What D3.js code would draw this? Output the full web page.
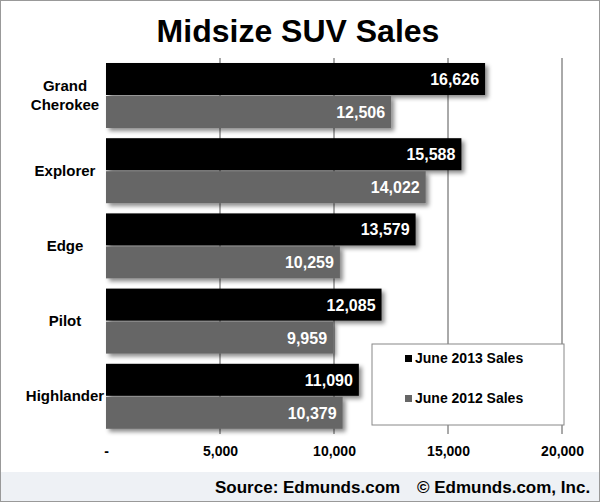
<!DOCTYPE html>
<html><head><meta charset="utf-8">
<script src="https://cdn.jsdelivr.net/npm/d3@7"></script>
<style>body{margin:0;background:#fff;font-family:"Liberation Sans",Arial,sans-serif}</style>
</head><body><svg width="600" height="502"></svg>
<script>
var models = ["Grand|Cherokee", "Explorer", "Edge", "Pilot", "Highlander"];
var sales2013 = [16626, 15588, 13579, 12085, 11090];
var sales2012 = [12506, 14022, 10259, 9959, 10379];
var ticks = [0, 5000, 10000, 15000, 20000];

var svg = d3.select("svg");
var defs = svg.append("defs");
var f = defs.append("filter").attr("id", "sh").attr("x", "-10%").attr("y", "-20%").attr("width", "130%").attr("height", "160%");
f.append("feDropShadow").attr("dx", 3).attr("dy", 3).attr("stdDeviation", 2).attr("flood-color", "#000").attr("flood-opacity", 0.45);

svg.append("rect").attr("x", 0.5).attr("y", 0.5).attr("width", 599).attr("height", 501).attr("fill", "#fff").attr("stroke", "#999");
svg.append("rect").attr("x", 1).attr("y", 472).attr("width", 598).attr("height", 29).attr("fill", "#eef1f5");

svg.append("text").attr("x", 298).attr("y", 42).attr("text-anchor", "middle")
    .style("font-size", "32px").style("font-weight", "bold").text("Midsize SUV Sales");

var x = d3.scaleLinear().domain([0, 20000]).range([106, 562]);
var y = d3.scaleBand().domain(models).range([58, 434]);

svg.selectAll(".grid").data(ticks.slice(1)).enter().append("line")
    .attr("x1", d => x(d)).attr("x2", d => x(d)).attr("y1", 58).attr("y2", 434)
    .attr("stroke", "#555").attr("stroke-width", 1);

var xAxis = d3.axisBottom(x).tickValues(ticks).tickSize(0)
    .tickFormat(d => d === 0 ? "-" : d3.format(",")(d));
var ax = svg.append("g").attr("transform", "translate(0,434)").call(xAxis);
ax.select(".domain").remove();
ax.selectAll("text").attr("dy", 0).attr("y", 22).style("font-size", "14px").style("font-weight", "bold")
    .style("font-family", "Liberation Sans, Arial").attr("fill", "#000");

var bh = 32;
function bars(vals, off, color) {
    var g = svg.append("g");
    g.selectAll("rect").data(vals).enter().append("rect")
        .attr("x", x(0)).attr("y", (d, i) => y(models[i]) + off)
        .attr("width", d => x(d) - x(0)).attr("height", bh)
        .attr("fill", color).attr("filter", "url(#sh)");
    g.selectAll("text").data(vals).enter().append("text")
        .attr("x", d => x(d) - 6).attr("y", (d, i) => y(models[i]) + off + bh / 2 + 6)
        .attr("text-anchor", "end").attr("fill", "#fff")
        .style("font-size", "16px").style("font-weight", "bold").text(d => d3.format(",")(d));
}
bars(sales2013, 5, "#000");
bars(sales2012, 38, "#666");

models.forEach(function(m) {
    var parts = m.split("|");
    var cy = y(m) + y.bandwidth() / 2;
    var t = svg.append("text").attr("x", 65).attr("text-anchor", "middle")
        .style("font-size", "15px").style("font-weight", "bold");
    parts.forEach(function(p, i) {
        t.append("tspan").attr("x", 65).attr("y", cy + 5 + (i - (parts.length - 1) / 2) * 19).text(p);
    });
});

var lg = svg.append("g");
lg.append("rect").attr("x", 372).attr("y", 344).attr("width", 192).attr("height", 81)
    .attr("fill", "#fff").attr("stroke", "#888");
[["June 2013 Sales", "#000", 363], ["June 2012 Sales", "#666", 403]].forEach(function(l) {
    lg.append("rect").attr("x", 405).attr("y", l[2] - 8).attr("width", 7).attr("height", 7).attr("fill", l[1]);
    lg.append("text").attr("x", 415).attr("y", l[2]).style("font-size", "14px").style("font-weight", "bold").text(l[0]);
});

svg.append("text").attr("x", 215).attr("y", 493).style("font-size", "17px").style("font-weight", "bold")
    .text("Source: Edmunds.com");
svg.append("text").attr("x", 417).attr("y", 493).style("font-size", "17px").style("font-weight", "bold")
    .text("© Edmunds.com, Inc.");
</script></body></html>
